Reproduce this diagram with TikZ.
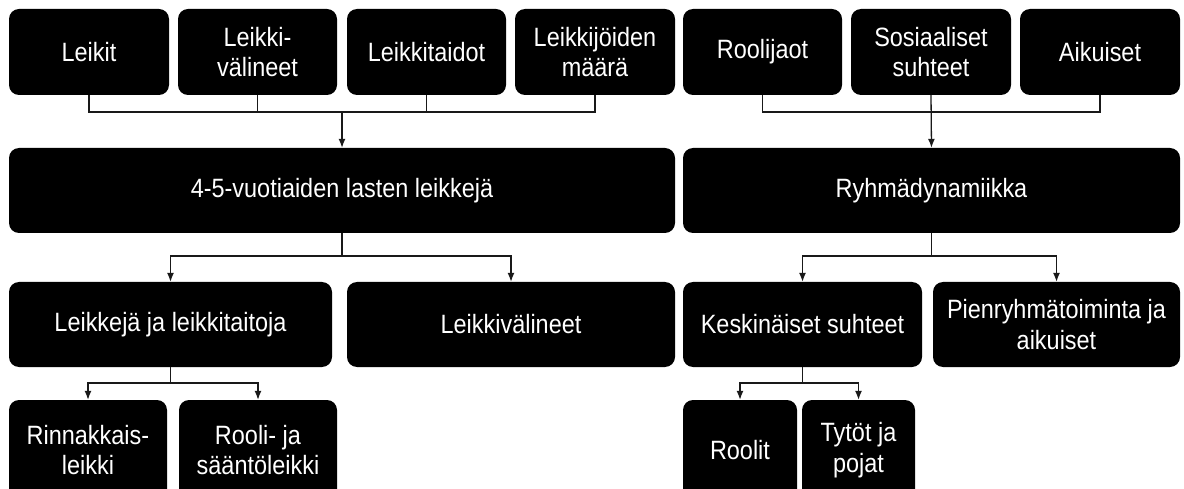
\documentclass[tikz,border=0pt]{standalone}
\usepackage{fontspec}
\setmainfont{Liberation Sans}[FakeStretch=0.885]
\usetikzlibrary{arrows.meta}
\tikzset{
  box/.style={fill=black, rounded corners=10pt, text=white, align=center,
    inner sep=0pt, font=\fontsize{26.5}{30.5}\selectfont},
  conn/.style={draw=black!90, line width=1.3pt},
  arr/.style={conn, -{Latex[length=9pt,width=7pt]}}
}
\newcommand{\mybox}[6]{% name, cx, cy, w, h, text
  \node[box, minimum width=#4pt, minimum height=#5pt] (#1) at (#2,#3) {#6};}
\begin{document}
\begin{tikzpicture}[x=1pt,y=-1pt]
\useasboundingbox (0,0) rectangle (1184,489);
\clip (0,0) rectangle (1184,489);
% Row 1
\mybox{a1}{89}{52}{160}{86}{Leikit}
\mybox{a2}{257.5}{52}{159}{86}{Leikki-\\välineet}
\mybox{a3}{426.5}{52}{159}{86}{Leikkitaidot}
\mybox{a4}{595}{52}{160}{86}{Leikkijöiden\\määrä}
\mybox{b1}{762.5}{52}{159}{86}{Roolijaot}
\mybox{b2}{931}{52}{160}{86}{Sosiaaliset\\suhteet}
\mybox{b3}{1100}{52}{160}{86}{Aikuiset}
% Row 2
\mybox{m1}{342}{190.5}{666}{85}{4-5-vuotiaiden lasten leikkejä}
\mybox{m2}{931.5}{190.5}{497}{85}{Ryhmädynamiikka}
% Row 3
\mybox{c1}{170.5}{324.5}{323}{85}{Leikkejä ja leikkitaitoja}
\mybox{c2}{511}{324.5}{328}{85}{Leikkivälineet}
\mybox{c3}{802.5}{324.5}{239}{85}{Keskinäiset suhteet}
\mybox{c4}{1056.5}{324.5}{247}{85}{Pienryhmätoiminta ja\\aikuiset}
% Row 4
\mybox{d1}{88}{450}{158}{100}{Rinnakkais-\\leikki}
\mybox{d2}{258}{450}{158}{100}{Rooli- ja\\sääntöleikki}
\mybox{d3}{740}{450}{114}{100}{Roolit}
\mybox{d4}{858.5}{450}{113}{100}{Tytöt ja\\pojat}
% junctions
\coordinate (ja) at (342,112);
\coordinate (jb) at (931,112);
\coordinate (jc) at (342,256);
\coordinate (jd) at (931.5,256);
\coordinate (je) at (170.5,383);
\coordinate (jf) at (802.5,383);
% connectors row1 -> row2
\foreach \n in {a1,a2,a3,a4} \draw[conn] (\n.south) |- (ja);
\draw[arr] (ja) -- (m1.north);
\foreach \n in {b1,b3} \draw[conn] (\n.south) |- (jb);
\draw[arr] (b2.south) -- (m2.north);
% row2 -> row3
\draw[arr] (m1.south) -- (jc) -| (c1.north);
\draw[arr] (jc) -| (c2.north);
\draw[arr] (m2.south) -- (jd) -| (c3.north);
\draw[arr] (jd) -| (c4.north);
% row3 -> row4
\draw[arr] (c1.south) -- (je) -| (d1.north);
\draw[arr] (je) -| (d2.north);
\draw[arr] (c3.south) -- (jf) -| (d3.north);
\draw[arr] (jf) -| (d4.north);
\end{tikzpicture}
\end{document}
